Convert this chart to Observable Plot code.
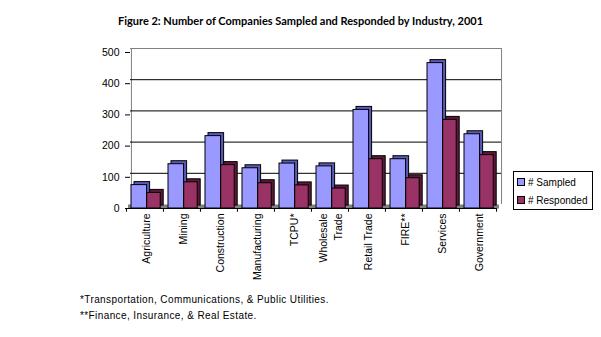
<!DOCTYPE html>
<html><head><meta charset="utf-8">
<script src="https://cdn.jsdelivr.net/npm/d3@7"></script>
<script src="https://cdn.jsdelivr.net/npm/@observablehq/plot@0.6"></script>
<style>
body{margin:0;background:#fff;width:601px;height:337px;position:relative;overflow:hidden;font-family:"Liberation Sans",Arial,sans-serif;}
#title{position:absolute;left:0;top:14px;width:601px;text-align:center;font:bold 11px Lato,"DejaVu Sans",sans-serif;color:#000;}
#chart{position:absolute;left:0;top:35px;}
#legend{position:absolute;left:513px;top:171px;width:78px;height:37px;border:1px solid #000;font-size:10px;}
#legend div{position:absolute;left:3px;height:12px;line-height:12px;white-space:nowrap;}
#legend span.sw{display:inline-block;width:6px;height:6px;border:1px solid #000;margin-right:3px;vertical-align:0px;}
#notes{position:absolute;left:80px;top:292px;font-size:10px;line-height:15.5px;letter-spacing:0.4px;color:#000;}
</style></head>
<body>
<div id="title">Figure 2: Number of Companies Sampled and Responded by Industry, 2001</div>
<div id="chart"></div>
<div id="legend">
 <div style="top:5px"><span class="sw" style="background:#9999ff"></span># Sampled</div>
 <div style="top:23px"><span class="sw" style="background:#993366"></span># Responded</div>
</div>
<div id="notes">*Transportation, Communications, &amp; Public Utilities.<br>**Finance, Insurance, &amp; Real Estate.</div>
<script>
const categories = ["Agriculture","Mining","Construction","Manufacturing","TCPU*","Wholesale Trade","Retail Trade","FIRE**","Services","Government"];
const tickLabels = ["Agriculture","Mining","Construction","Manufacturing","TCPU*","Wholesale\nTrade","Retail Trade","FIRE**","Services","Government"];
const sampled   = [75, 142, 232, 129, 144, 135, 316, 158, 466, 238];
const responded = [50, 84, 139, 81, 74, 64, 158, 97, 284, 171];
const yTicks = [0, 100, 200, 300, 400, 500];

const data = categories.map((c, i) => ({category: c, sampled: sampled[i], responded: responded[i]}));
const W = 601, ML = 125, MR = 105;
const bw = (W - ML - MR) / categories.length;
const labelOf = new Map(categories.map((c, i) => [c, tickLabels[i]]));

const chart = Plot.plot({
  width: W, height: 250,
  marginLeft: ML, marginRight: MR, marginTop: 17, marginBottom: 77,
  style: {fontFamily: "'Liberation Sans', Arial, sans-serif", fontSize: "10px", color: "#000", background: "#fff"},
  x: {type: "band", domain: categories, padding: 0, label: null},
  y: {domain: [0, 500], label: null},
  marks: [
    // floor
    Plot.ruleY([0], {stroke: "#808080", strokeWidth: 4, dx: 3, dy: -2}),
    // back wall edges
    Plot.ruleX([categories[0]], {x: d => d, y1: 0, y2: 500, dx: -bw / 2 + 5, dy: -4, stroke: "#808080"}),
    Plot.ruleX([categories[categories.length - 1]], {x: d => d, y1: 0, y2: 500, dx: bw / 2 + 5, dy: -4, stroke: "#808080"}),
    // gridlines on back wall
    Plot.ruleY(yTicks.filter(v => v > 0 && v < 500), {dx: 5, dy: -4, stroke: "#000"}),
    Plot.ruleY([500], {dx: 5, dy: -4, stroke: "#808080"}),
    // sampled bars (3D side + front)
    Plot.barY(data, {x: "category", y: "sampled", insetLeft: 5, insetRight: 16.4, dx: 3, dy: -3, fill: "#5a5ab8", stroke: "#000", strokeWidth: 1}),
    Plot.barY(data, {x: "category", y: "sampled", insetLeft: 5, insetRight: 16.4, fill: "#9999ff", stroke: "#000", strokeWidth: 1}),
    // responded bars
    Plot.barY(data, {x: "category", y: "responded", insetLeft: 20.7, insetRight: 2.8, dx: 3, dy: -3, fill: "#5e1838", stroke: "#000", strokeWidth: 1}),
    Plot.barY(data, {x: "category", y: "responded", insetLeft: 20.7, insetRight: 2.8, fill: "#993366", stroke: "#000", strokeWidth: 1}),
    // front x axis line
    Plot.ruleY([0], {stroke: "#000"}),
    // category boundary ticks
    Plot.ruleX(categories, {x: d => d, y1: 0, y2: -12, dx: -bw / 2, stroke: "#000"}),
    Plot.ruleX([categories[categories.length - 1]], {x: d => d, y1: 0, y2: -12, dx: bw / 2, stroke: "#000"}),
    Plot.axisX({tickSize: 0, tickPadding: 5, tickRotate: -90, tickFormat: d => labelOf.get(d), fontSize: 10.5, lineHeight: 1.4}),
    Plot.axisY({ticks: yTicks, tickSize: 5, tickPadding: 6, dx: 5, fontSize: 10.5, tickFormat: d => String(d)})
  ]
});
document.getElementById("chart").appendChild(chart);
</script>
</body></html>
